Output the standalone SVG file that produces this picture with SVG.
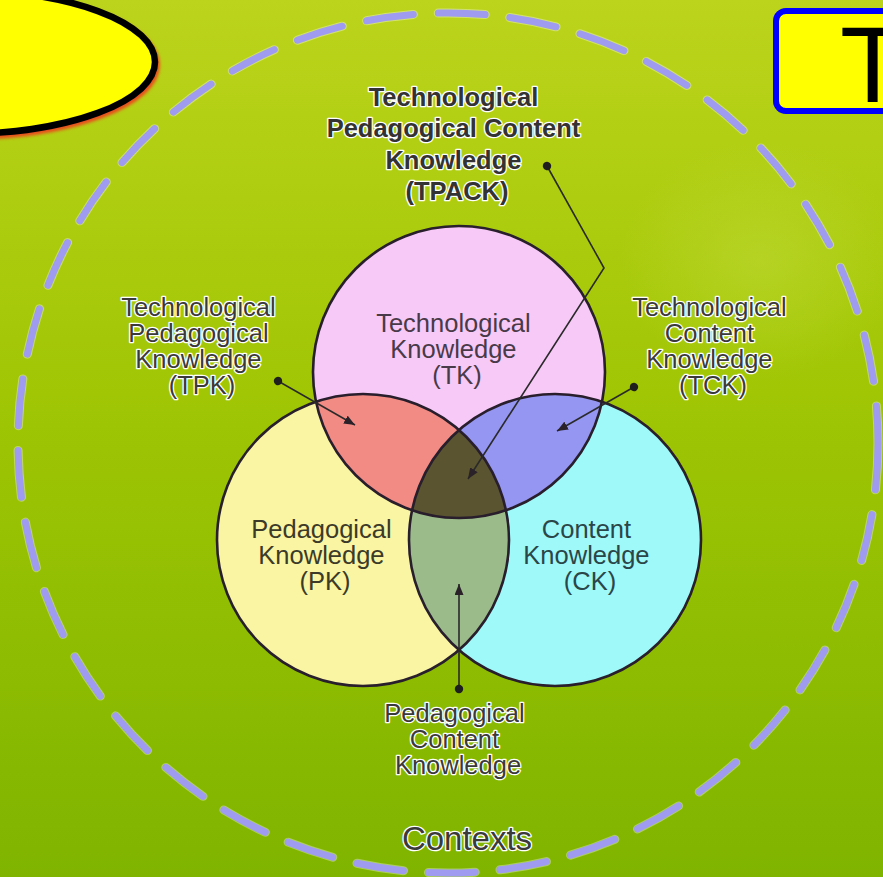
<svg xmlns="http://www.w3.org/2000/svg" width="883" height="877" viewBox="0 0 883 877">
  <defs>
    <linearGradient id="bg" x1="0" y1="0" x2="0" y2="1">
      <stop offset="0" stop-color="#bcd41c"/>
      <stop offset="0.45" stop-color="#a0c604"/>
      <stop offset="1" stop-color="#7fb400"/>
    </linearGradient>
    <radialGradient id="spot" cx="0.5" cy="0.5" r="0.5">
      <stop offset="0" stop-color="#c4dc40" stop-opacity="0.45"/>
      <stop offset="1" stop-color="#c4dc40" stop-opacity="0"/>
    </radialGradient>
    <filter id="blur" x="-10%" y="-10%" width="120%" height="130%">
      <feGaussianBlur stdDeviation="1.5"/>
    </filter>
    <clipPath id="cTK"><circle cx="459" cy="372" r="146"/></clipPath>
    <clipPath id="cPK"><circle cx="363" cy="540" r="146"/></clipPath>
    <clipPath id="cCK"><circle cx="555" cy="540" r="146"/></clipPath>
    <marker id="arrow" markerUnits="userSpaceOnUse" markerWidth="11" markerHeight="9" refX="11" refY="4.5" orient="auto">
      <path d="M0,0 L11,4.5 L0,9 z" fill="#2a2228"/>
    </marker>
    <marker id="dot" markerUnits="userSpaceOnUse" markerWidth="10" markerHeight="10" refX="5" refY="5" orient="auto">
      <circle cx="5" cy="5" r="4.2" fill="#1e1e1e"/>
    </marker>
  </defs>
  <style>
    .lbl { font-family: "Liberation Sans", Arial, sans-serif; font-size: 25.5px; text-anchor: middle; }
    .halo { fill: #3a3a3a; stroke: #ffffff; stroke-width: 2.6; stroke-linejoin: round; paint-order: stroke; }
    .bold { font-weight: bold; fill: #333333; }
    .ring { fill: none; stroke: #281e2c; stroke-width: 2.6; }
    .conn { fill: none; stroke: #2a2a2a; stroke-width: 1.6; }
  </style>

  <rect x="0" y="0" width="883" height="877" fill="url(#bg)"/>
  <ellipse cx="760" cy="260" rx="140" ry="120" fill="url(#spot)"/>

  <g id="contexts">
    <circle cx="448" cy="443" r="430" fill="none" stroke="#ffffff" stroke-opacity="0.35" stroke-width="9" stroke-dasharray="47 25" stroke-linecap="round"/>
    <circle cx="448" cy="443" r="430" fill="none" stroke="#9e9bf0" stroke-width="7" stroke-dasharray="47 25" stroke-linecap="round"/>
    <text class="lbl halo" x="467" y="850" style="font-size:33px">Contexts</text>
  </g>

  <g id="title-ellipse">
    <ellipse cx="-38" cy="65" rx="195" ry="72" fill="none" stroke="#e8501a" stroke-width="6" filter="url(#blur)"/>
    <ellipse cx="-40" cy="62" rx="195" ry="72" fill="#ffff00" stroke="#000000" stroke-width="6.5"/>
  </g>

  <g id="title-box">
    <rect x="776" y="11" width="200" height="100" rx="10" fill="#ffff00" stroke="#0000ff" stroke-width="6"/>
    <text x="840" y="102" font-family="'Liberation Sans', Arial, sans-serif" font-size="107" fill="#000000">T</text>
  </g>

  <g id="venn">
    <g id="TK">
      <circle cx="459" cy="372" r="146" fill="#f7c9f7"/>
    </g>
    <g id="PK">
      <circle cx="363" cy="540" r="146" fill="#f9f5a3"/>
    </g>
    <g id="CK">
      <circle cx="555" cy="540" r="146" fill="#9ff9f9"/>
    </g>
    <g id="TPK">
      <circle cx="363" cy="540" r="146" fill="#f28b84" clip-path="url(#cTK)"/>
    </g>
    <g id="TCK">
      <circle cx="555" cy="540" r="146" fill="#9595f2" clip-path="url(#cTK)"/>
    </g>
    <g id="PCK">
      <circle cx="555" cy="540" r="146" fill="#9cbb8a" clip-path="url(#cPK)"/>
    </g>
    <g id="TPACK">
      <g clip-path="url(#cTK)">
        <circle cx="555" cy="540" r="146" fill="#5a5530" clip-path="url(#cPK)"/>
      </g>
    </g>
    <circle class="ring" cx="459" cy="372" r="146"/>
    <circle class="ring" cx="363" cy="540" r="146"/>
    <circle class="ring" cx="555" cy="540" r="146"/>
  </g>

  <g id="label-TK">
    <text class="lbl" fill="#483a48">
      <tspan x="457" y="332">Technological</tspan>
      <tspan x="457" y="358">Knowledge</tspan>
      <tspan x="457" y="384">(TK)</tspan>
    </text>
  </g>
  <g id="label-PK">
    <text class="lbl" fill="#3c3a28">
      <tspan x="325" y="538">Pedagogical</tspan>
      <tspan x="325" y="564">Knowledge</tspan>
      <tspan x="325" y="590">(PK)</tspan>
    </text>
  </g>
  <g id="label-CK">
    <text class="lbl" fill="#2a4648">
      <tspan x="590" y="538">Content</tspan>
      <tspan x="590" y="564">Knowledge</tspan>
      <tspan x="590" y="590">(CK)</tspan>
    </text>
  </g>

  <g id="label-TPACK">
    <text class="lbl halo bold">
      <tspan x="457" y="106">Technological</tspan>
      <tspan x="457" y="137">Pedagogical Content</tspan>
      <tspan x="457" y="169">Knowledge</tspan>
      <tspan x="457" y="200">(TPACK)</tspan>
    </text>
  </g>
  <g id="label-TPK-out">
    <text class="lbl halo">
      <tspan x="202" y="316">Technological</tspan>
      <tspan x="202" y="342">Pedagogical</tspan>
      <tspan x="202" y="368">Knowledge</tspan>
      <tspan x="202" y="394">(TPK)</tspan>
    </text>
  </g>
  <g id="label-TCK-out">
    <text class="lbl halo">
      <tspan x="713" y="316">Technological</tspan>
      <tspan x="713" y="342">Content</tspan>
      <tspan x="713" y="368">Knowledge</tspan>
      <tspan x="713" y="394">(TCK)</tspan>
    </text>
  </g>
  <g id="label-PCK-out">
    <text class="lbl halo">
      <tspan x="458" y="722">Pedagogical</tspan>
      <tspan x="458" y="748">Content</tspan>
      <tspan x="458" y="774">Knowledge</tspan>
    </text>
  </g>

  <g id="connectors">
    <path class="conn" d="M547,166 L604,268 L468,479" marker-start="url(#dot)" marker-end="url(#arrow)"/>
    <path class="conn" d="M278,381 L355,425" marker-start="url(#dot)" marker-end="url(#arrow)"/>
    <path class="conn" d="M634,387 L557,431" marker-start="url(#dot)" marker-end="url(#arrow)"/>
    <path class="conn" d="M459,689 L459,584" marker-start="url(#dot)" marker-end="url(#arrow)"/>
  </g>
</svg>
